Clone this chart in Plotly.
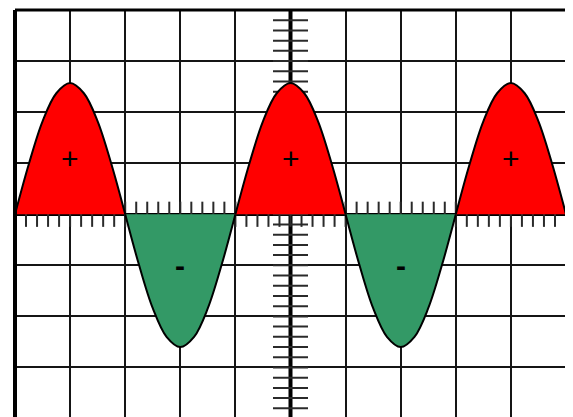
import numpy as np
import plotly.graph_objects as go

# one grid division = 1 unit; sine every quarter division
wave_x = [i * 0.25 for i in range(41)]
wave_y = [
    0, 0.98, 1.82, 2.37, 2.57, 2.37, 1.82, 0.98,
    0, -0.99, -1.84, -2.40, -2.60, -2.40, -1.84, -0.99,
    0, 0.98, 1.82, 2.37, 2.57, 2.37, 1.82, 0.98,
    0, -0.99, -1.84, -2.40, -2.60, -2.40, -1.84, -0.99,
    0, 0.98, 1.82, 2.37, 2.57, 2.37, 1.82, 0.98,
    0,
]

# labels inside the humps
sign_x = [1, 3, 5, 7, 9]
sign_y = [1.1, -1.0, 1.1, -1.0, 1.1]
sign_text = ["+", "-", "+", "-", "+"]

RED = "#ff0000"
GREEN = "#339966"
INK = "#151515"

x_range = [0, 10]
y_range = [-3.97, 4]

fig = go.Figure()

# minor ticks on the centre cross (5 per division), drawn under the fills
hx = np.arange(0, 10.01, 0.2)
fig.add_trace(go.Scatter(
    x=hx, y=np.zeros_like(hx), mode="markers", hoverinfo="skip",
    marker=dict(symbol="line-ns", size=18, line=dict(width=2, color="#2a2a2a")),
))
vy = np.arange(-3.8, 4.01, 0.2)
fig.add_trace(go.Scatter(
    x=np.full_like(vy, 5), y=vy, mode="markers", hoverinfo="skip",
    marker=dict(symbol="line-ew", size=25, line=dict(width=2, color="#2a2a2a")),
))

# each half wave is its own filled trace so it can take its own colour
start = 0
for i in range(1, len(wave_x)):
    if wave_y[i] == 0:
        seg_x = wave_x[start:i + 1]
        seg_y = wave_y[start:i + 1]
        colour = RED if max(seg_y) > 0 else GREEN
        fig.add_trace(go.Scatter(
            x=seg_x, y=seg_y, mode="lines", fill="tozeroy",
            fillcolor=colour, line=dict(color="black", width=2, shape="spline"),
            hoverinfo="skip",
        ))
        start = i

for sx, sy, st in zip(sign_x, sign_y, sign_text):
    fig.add_annotation(
        x=sx, y=sy, text=f"<b>{st}</b>" if st == "-" else st, showarrow=False,
        font=dict(family="Liberation Sans", size=30 if st == "-" else 30,
                  color="black"),
    )

# centre vertical axis and the frame
fig.add_shape(type="line", x0=5, x1=5, y0=y_range[0], y1=y_range[1],
              line=dict(color="black", width=4), layer="between")
fig.add_shape(type="line", xref="paper", yref="paper", x0=0, x1=0, y0=0, y1=1,
              line=dict(color="black", width=4), layer="above")
fig.add_shape(type="line", xref="paper", yref="paper", x0=0, x1=1, y0=1, y1=1,
              line=dict(color="black", width=3), layer="above")
fig.add_shape(type="line", xref="paper", yref="paper", x0=1, x1=1, y0=0, y1=1,
              line=dict(color="black", width=2), layer="above")

# the page body adds an 8px margin, so the figure is sized to end at the window edge
fig.update_layout(
    width=565, height=409,
    margin=dict(l=7, r=7, t=2, b=0, pad=0),
    paper_bgcolor="white", plot_bgcolor="white",
    showlegend=False,
)
fig.update_xaxes(range=x_range, dtick=1, tick0=0, showgrid=True,
                 gridcolor=INK, gridwidth=2, zeroline=False,
                 showticklabels=False, ticks="", fixedrange=True)
fig.update_yaxes(range=y_range, dtick=1, tick0=0, showgrid=True,
                 gridcolor=INK, gridwidth=2, zeroline=True,
                 zerolinecolor="black", zerolinewidth=3,
                 showticklabels=False, ticks="", fixedrange=True)

fig.write_html("out.html")
